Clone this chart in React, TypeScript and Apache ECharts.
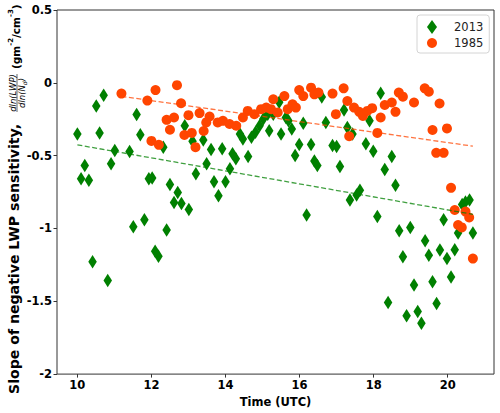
import React, { useEffect, useRef } from "react";
import * as echarts from "echarts";

// 2013 sample (green diamonds)
const x2013 = [10.0, 10.1, 10.2, 10.31, 10.41, 10.51, 10.6, 10.71, 10.82, 10.91, 11.01, 11.41, 11.51, 11.6, 11.7, 11.81, 11.93, 12.02, 12.1, 12.19, 12.32, 12.41, 12.5, 12.61, 12.71, 12.81, 12.9, 13.01, 13.11, 13.2, 13.4, 13.49, 13.61, 13.69, 13.81, 13.91, 14.0, 14.12, 14.19, 14.28, 14.39, 14.47, 14.61, 14.7, 14.81, 14.92, 15.02, 15.14, 15.18, 15.29, 15.45, 15.5, 15.63, 15.7, 15.79, 15.88, 15.99, 16.1, 16.19, 16.31, 16.4, 16.48, 16.6, 16.71, 16.89, 17.0, 17.09, 17.2, 17.29, 17.36, 17.43, 17.54, 17.63, 17.79, 17.89, 17.99, 18.1, 18.19, 18.3, 18.39, 18.49, 18.59, 18.69, 18.79, 18.89, 18.99, 19.09, 19.19, 19.29, 19.39, 19.49, 19.59, 19.7, 19.79, 19.89, 19.98, 20.09, 20.19, 20.28, 20.39, 20.48, 20.59, 20.68];
const y2013 = [-0.351, -0.658, -0.567, -0.669, -1.229, -0.159, -0.344, -0.086, -1.357, -0.555, -0.465, -0.472, -0.989, -0.217, -0.356, -0.941, -0.658, -0.653, -1.157, -1.191, -0.442, -1.01, -0.698, -0.821, -0.753, -0.828, -0.295, -0.869, -0.401, -0.624, -0.392, -0.555, -0.458, -0.68, -0.775, -0.453, -0.68, -0.59, -0.487, -0.521, -0.351, -0.385, -0.506, -0.374, -0.34, -0.295, -0.249, -0.215, -0.329, -0.215, -0.134, -0.351, -0.238, -0.261, -0.317, -0.499, -0.424, -0.278, -0.907, -0.424, -0.537, -0.567, -0.097, -0.272, -0.431, -0.438, -0.574, -0.186, -0.306, -0.805, -0.351, -0.771, -0.737, -0.419, -0.261, -0.469, -0.918, -0.072, -0.596, -1.508, -0.506, -0.703, -1.016, -1.195, -1.599, -0.993, -1.388, -1.57, -1.651, -1.084, -1.184, -1.366, -1.515, -1.148, -0.941, -1.207, -1.334, -1.146, -1.032, -0.835, -0.818, -0.804, -1.032];

// 1985 sample (orange circles)
const x1985 = [11.19, 11.89, 12.0, 12.11, 12.2, 12.41, 12.5, 12.61, 12.69, 12.8, 12.89, 13.0, 13.09, 13.19, 13.3, 13.41, 13.48, 13.57, 13.79, 13.93, 14.11, 14.29, 14.47, 14.6, 14.78, 14.96, 15.1, 15.23, 15.29, 15.41, 15.59, 15.68, 15.81, 15.9, 15.99, 16.1, 16.31, 16.4, 16.51, 16.89, 16.98, 17.19, 17.29, 17.34, 17.47, 17.61, 17.71, 17.83, 17.96, 18.1, 18.19, 18.3, 18.49, 18.59, 18.68, 18.79, 19.09, 19.38, 19.49, 19.59, 19.69, 19.78, 19.89, 19.98, 20.09, 20.19, 20.28, 20.38, 20.48, 20.58, 20.68];
const y1985 = [-0.074, -0.122, -0.399, -0.05, -0.426, -0.254, -0.322, -0.238, -0.016, -0.14, -0.358, -0.222, -0.344, -0.442, -0.208, -0.331, -0.272, -0.231, -0.272, -0.261, -0.283, -0.295, -0.238, -0.193, -0.215, -0.181, -0.17, -0.181, -0.113, -0.204, -0.091, -0.181, -0.147, -0.17, -0.05, -0.091, -0.033, -0.079, -0.067, -0.074, -0.215, -0.038, -0.125, -0.367, -0.17, -0.199, -0.227, -0.193, -0.174, -0.344, -0.238, -0.152, -0.135, -0.199, -0.067, -0.095, -0.135, -0.038, -0.061, -0.324, -0.481, -0.142, -0.481, -0.313, -0.721, -0.873, -0.976, -0.993, -0.884, -0.925, -1.207];

// Linear trend endpoints
const trend2013X = [10.0, 20.68];
const trend2013Y = [-0.426, -0.903];
const trend1985X = [11.19, 20.68];
const trend1985Y = [-0.093, -0.435];

const xTicks = [10, 12, 14, 16, 18, 20];

const FONT = '"DejaVu Sans", sans-serif';

export default function App() {
  const ref = useRef<HTMLDivElement>(null);
  useEffect(() => {
    if (!ref.current) return;
    const chart = echarts.init(ref.current, null, { renderer: "svg" });
    const zip = (xs: number[], ys: number[]) => xs.map((x, i) => [x, ys[i]]);
    chart.setOption({
      animation: false,
      backgroundColor: "#ffffff",
      grid: {
        left: 57,
        right: 6,
        top: 10,
        bottom: 35,
        show: true,
        borderColor: "#333",
        borderWidth: 1,
        backgroundColor: "transparent",
      },
      legend: {
        left: 417,
        top: 15,
        orient: "vertical",
        padding: [5, 6, 4, 10],
        itemWidth: 10,
        itemHeight: 14,
        itemGap: 3,
        borderColor: "#d4d4d4",
        borderWidth: 1,
        borderRadius: 3,
        backgroundColor: "#fff",
        textStyle: { fontFamily: FONT, fontSize: 11.5, color: "#222", padding: [0, 0, 0, 12] },
        data: [
          { name: "2013", icon: "diamond", itemStyle: { color: "#008000", opacity: 1 } },
          { name: "1985", icon: "circle", itemStyle: { color: "#ff4500", opacity: 1 } },
        ],
      },
      xAxis: {
        type: "value",
        min: 9.45,
        max: 21.25,
        name: "Time (UTC)",
        nameLocation: "middle",
        nameGap: 19,
        nameTextStyle: { fontFamily: FONT, fontWeight: "bold", fontSize: 11.5, color: "#000" },
        axisLine: { show: false, onZero: false },
        splitLine: { show: false },
        axisTick: { show: true, length: 3.5, customValues: xTicks, lineStyle: { color: "#333" } },
        axisLabel: {
          customValues: xTicks,
          margin: 5,
          fontFamily: FONT,
          fontWeight: "bold",
          fontSize: 11.5,
          color: "#000",
        },
      },
      yAxis: {
        type: "value",
        min: -2,
        max: 0.5,
        interval: 0.5,
        axisLine: { show: false, onZero: false },
        splitLine: { show: false },
        axisTick: { show: true, length: 3.5, lineStyle: { color: "#333" } },
        axisLabel: {
          margin: 5,
          fontFamily: FONT,
          fontWeight: "bold",
          fontSize: 11.5,
          color: "#000",
          formatter: (v: number) => String(v),
        },
      },
      graphic: [
        {
          type: "group",
          x: 14,
          y: 394,
          rotation: Math.PI / 2,
          children: [
            {
              type: "text",
              x: 0,
              y: 0,
              style: {
                text: "Slope of negative LWP sensitivity,",
                fontFamily: FONT,
                fontWeight: "bold",
                fontSize: 14.1,
                fill: "#000",
                align: "left",
                verticalAlign: "middle",
              },
            },
            {
              type: "text",
              x: 301,
              y: -1.5,
              style: {
                text: "dln(LWP)",
                fontFamily: FONT,
                fontStyle: "italic",
                fontSize: 8.5,
                fill: "#000",
                align: "center",
                verticalAlign: "middle",
              },
            },
            {
              type: "line",
              shape: { x1: 282, y1: 3, x2: 320, y2: 3 },
              style: { stroke: "#000", lineWidth: 0.6 },
            },
            {
              type: "text",
              x: 301,
              y: 8,
              style: {
                text: "dln(N{s|d})",
                fontFamily: FONT,
                fontStyle: "italic",
                fontSize: 8.5,
                fill: "#000",
                align: "center",
                verticalAlign: "middle",
                rich: { s: { fontSize: 6, fontStyle: "italic", fontFamily: FONT, padding: [4, 0, 0, 0] } },
              },
            },
            {
              type: "text",
              x: 325,
              y: 0,
              style: {
                text: "{b|(gm}{p|-2}{b|/cm}{p|-3}{b|)}",
                fill: "#000",
                align: "left",
                verticalAlign: "middle",
                rich: {
                  b: { fontFamily: FONT, fontWeight: "bold", fontSize: 10.5, fill: "#000", lineHeight: 14, verticalAlign: "bottom" },
                  p: { fontFamily: FONT, fontWeight: "bold", fontSize: 7, fill: "#000", lineHeight: 14, verticalAlign: "top" },
                },
              },
            },
          ],
        },
      ],
      series: [
        {
          name: "2013",
          type: "scatter",
          symbol: "diamond",
          symbolSize: [8.5, 13.5],
          itemStyle: { color: "#008000", opacity: 1 },
          data: zip(x2013, y2013),
          z: 2,
        },
        {
          name: "1985",
          type: "scatter",
          symbol: "circle",
          symbolSize: 10,
          itemStyle: { color: "#ff4500", opacity: 1 },
          data: zip(x1985, y1985),
          z: 3,
        },
        {
          name: "trend2013",
          type: "line",
          showSymbol: false,
          symbol: "none",
          data: zip(trend2013X, trend2013Y),
          lineStyle: { color: "#008000", opacity: 0.75, width: 1.3, type: [5, 2.5] },
          z: 4,
        },
        {
          name: "trend1985",
          type: "line",
          showSymbol: false,
          symbol: "none",
          data: zip(trend1985X, trend1985Y),
          lineStyle: { color: "#ff4500", opacity: 0.75, width: 1.3, type: [5, 2.5] },
          z: 4,
        },
      ],
    });
    return () => chart.dispose();
  }, []);
  return <div ref={ref} style={{ width: 500, height: 413, position: "absolute", left: 0, top: 0 }} />;
}
